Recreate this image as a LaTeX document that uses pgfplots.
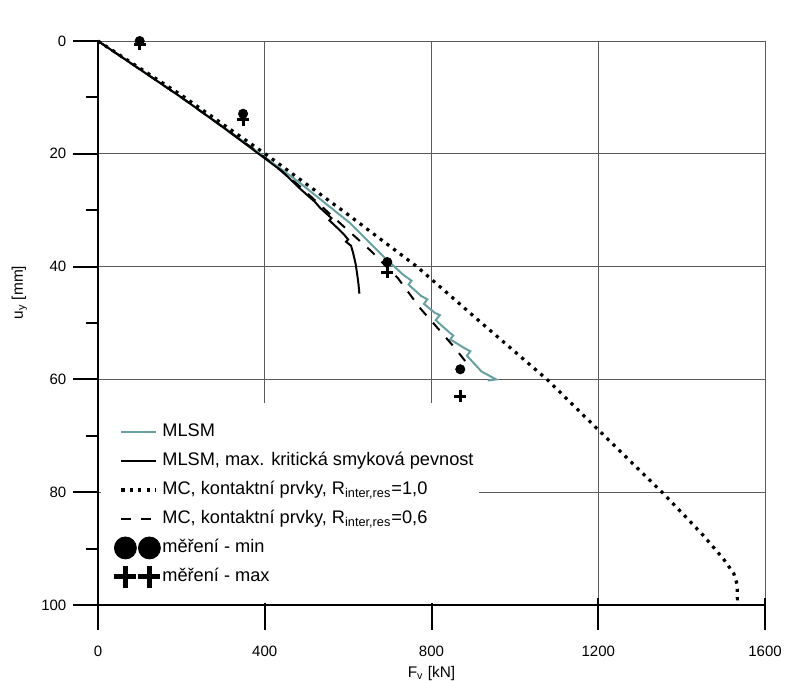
\documentclass[border=0pt]{standalone}
\usepackage{fontspec}
\setmainfont{Liberation Sans}
\usepackage{pgfplots}
\pgfplotsset{compat=1.18}
\definecolor{tealc}{RGB}{104,160,162}
\definecolor{gridc}{RGB}{90,90,90}
\pgfplotsset{
  circlegend/.style={legend image code/.code={\draw[##1, mark size=5.5pt] plot coordinates {(2pt,0pt) (14pt,0pt)};}},
  pluslegend/.style={legend image code/.code={\draw[##1, mark size=5.5pt, line width=2.5pt] plot coordinates {(2pt,0pt) (14pt,0pt)};}},
}
\begin{document}
\begin{tikzpicture}
\useasboundingbox (-49pt,-37.5pt) rectangle (344pt,302.5pt);
\begin{axis}[
  at={(0,0)}, anchor=south west,
  scale only axis, width=333.5pt, height=282pt,
  xmin=0, xmax=1600, ymin=0, ymax=100, y dir=reverse,
  axis x line*=bottom, axis y line*=left,
  axis line style={line width=1pt, -},
  xtick={0,400,800,1200,1600}, ytick={0,20,40,60,80,100},
  minor ytick={10,30,50,70,90},
  extra x ticks={0,400,800,1200,1600}, extra x tick labels={},
  extra x tick style={tick align=inside, major tick length=3.5pt, grid=none},
  grid=major, major grid style={gridc, line width=0.5pt},
  tick align=outside, major tick length=12.3pt, minor tick length=6pt,
  every tick/.style={black, line width=1pt},
  /pgf/number format/assume math mode=true,
  /pgf/number format/1000 sep={},
  tick label style={font=\fontsize{7.5}{9}\selectfont},
  xticklabel style={yshift=-4.5pt},
  label style={font=\fontsize{7.7}{9}\selectfont},
  xlabel={F\textsubscript{v} [kN]},
  ylabel={u\textsubscript{y} [mm]},
  xlabel style={at={(axis description cs:0.5,-0.1215)}, anchor=center},
  ylabel style={at={(axis description cs:-0.118,0.554)}, anchor=center},
  clip=false,
  legend cell align=left,
  legend style={at={(axis description cs:0.015,0.335)}, anchor=north west,
    draw=none, fill=none, font=\fontsize{9.1}{10.5}\selectfont,
    row sep=3pt, nodes={inner sep=1pt, text height=7pt, text depth=2.5pt}},
]
\fill[white] (axis description cs:0.004,0.004) rectangle (axis description cs:0.571,0.358);

\addplot[tealc, line width=1pt] coordinates {
(0,0) (100,5.0) (200,10.0) (300,15.2) (389,20) (485,25.2) (605,32.3) (693,38.8)
(733,41.5) (752,42.5) (745,43.2) (775,45.2) (790,45.8) (782,46.6) (808,48.2)
(820,48.6) (810,49.5) (845,51.8) (852,52.2) (845,52.9) (880,54.5) (893,55.0)
(885,55.8) (920,58.6) (955,60.0) (935,60.2)};
\addlegendentry{MLSM}

\addplot[black, line width=1pt] coordinates {
(0,0) (100,5) (200,10) (300,15.3) (389,20.2) (440,23) (485,26.2) (520,28.5)
(533,29.6) (545,30.4) (560,31.4) (555,31.8) (575,33.2) (590,34.3) (600,35.2)
(595,35.6) (607,36.3) (612,37.6) (618,39.5) (622,41.5) (625,43.2) (627,44.8)};
\addlegendentry{MLSM, max. kritická smyková pevnost}

\addplot[black, line width=1.6pt, dash pattern=on 1.6pt off 2.6pt] coordinates {
(0,0) (200,9.6) (401,20) (600,30.8) (765,40) (920,50) (1077,60) (1205,69.3)
(1357,80.3) (1450,87.5) (1500,91.8) (1525,94.4) (1533,96.3) (1534,100)};
\addlegendentry{MC, kontaktní prvky, R\textsubscript{inter,res}=1,0}

\addplot[black, line width=1pt, dash pattern=on 5pt off 5pt] coordinates {
(0,0) (200,10) (389,20) (480,25.5) (564,31.2) (653,37.1) (720,42.1) (773,47.4)
(810,50.5) (850,53.9) (887,57.3)};
\addlegendentry{MC, kontaktní prvky, R\textsubscript{inter,res}=0,6}

\addplot[only marks, mark=*, mark size=2.3pt, black, circlegend]
  coordinates {(100,0) (348,12.9) (694,39.2) (869,58.2)};
\addlegendentry{měření - min}

\addplot[only marks, mark=+, mark size=3pt, black, line width=1.5pt, pluslegend]
  coordinates {(100,0.6) (348,14.0) (694,41.0) (869,63.0)};
\addlegendentry{měření - max}
\end{axis}
\end{tikzpicture}
\end{document}
